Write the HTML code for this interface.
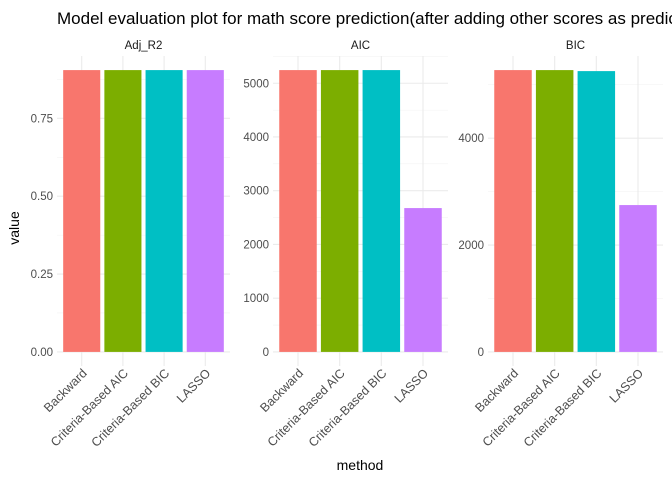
<!DOCTYPE html>
<html><head><meta charset="utf-8"><style>
body{margin:0;background:#fff}
svg{display:block;font-family:"Liberation Sans",Arial,sans-serif}
</style></head><body>
<svg id="chart" width="672" height="480">
<text x="57" y="24" font-size="17" fill="#000">Model evaluation plot for math score prediction(after adding other scores as predictors)</text>
<text transform="translate(19,228) rotate(-90)" text-anchor="middle" font-size="14" fill="#000">value</text>
<text x="360" y="470" text-anchor="middle" font-size="14" fill="#000">method</text>
<g id="panels"></g>
</svg>
<script>
const methods = ["Backward","Criteria-Based AIC","Criteria-Based BIC","LASSO"];
const colors = ["#F8766D","#7CAE00","#00BFC4","#C77CFF"];
const metrics = ["Adj_R2","AIC","BIC"];
const adjR2Values = [0.905,0.905,0.905,0.905];
const aicValues = [5245,5245,5245,2677];
const bicValues = [5274,5274,5255,2748];
const adjR2Ticks = [0,0.25,0.5,0.75];
const adjR2TickLabels = ["0.00","0.25","0.50","0.75"];
const aicTicks = [0,1000,2000,3000,4000,5000];
const aicTickLabels = ["0","1000","2000","3000","4000","5000"];
const bicTicks = [0,2000,4000];
const bicTickLabels = ["0","2000","4000"];

const NS="http://www.w3.org/2000/svg";
const g=document.getElementById('panels');
function mk(t,a,p){const e=document.createElementNS(NS,t);for(const k in a)e.setAttribute(k,a[k]);(p||g).appendChild(e);return e;}
const panels=[
 {x0:57,x1:230,vals:adjR2Values,ticks:adjR2Ticks,labels:adjR2TickLabels,name:"adj-r2"},
 {x0:273,x1:448,vals:aicValues,ticks:aicTicks,labels:aicTickLabels,name:"aic"},
 {x0:488,x1:663,vals:bicValues,ticks:bicTicks,labels:bicTickLabels,name:"bic"}];
const yTop=56,yBot=366;
panels.forEach((p,pi)=>{
  const pg=mk('g',{});
  
  
  const vmax=Math.max(...p.vals);
  const lo=-0.05*vmax,hi=vmax*1.05;
  const ys=v=>yBot-(v-lo)/(hi-lo)*(yBot-yTop);
  const unit=(p.x1-p.x0)/4.2;
  const xs=i=>p.x0+unit*(0.6+i);
  const step=p.ticks[1]-p.ticks[0];
  for(let v=-step/2;v<=hi;v+=step){ if(v<lo) continue;
    mk('line',{x1:p.x0,x2:p.x1,y1:ys(v),y2:ys(v),stroke:'#f3f3f3','stroke-width':0.6},pg);}
  p.ticks.forEach((t,i)=>{
    const l=mk('line',{x1:p.x0,x2:p.x1,y1:ys(t),y2:ys(t),stroke:'#ebebeb','stroke-width':1.1},pg);
    
    
    const tx=mk('text',{x:p.x0-4,y:ys(t)+4,'text-anchor':'end','font-size':11.5,fill:'#4d4d4d'},pg);
    tx.textContent=p.labels[i];
    
    
  });
  methods.forEach((m,i)=>{
    mk('line',{x1:xs(i),x2:xs(i),y1:yTop,y2:yBot,stroke:'#ebebeb','stroke-width':1.1},pg);
  });
  methods.forEach((m,i)=>{
    const r=mk('rect',{x:xs(i)-unit*0.45,width:unit*0.9,y:ys(p.vals[i]),height:ys(0)-ys(p.vals[i]),fill:colors[i]},pg);
    
    
    const tx=mk('text',{transform:`translate(${xs(i)+6},${yBot+8}) rotate(-45)`,'text-anchor':'end','font-size':12.5,fill:'#4d4d4d'},pg);
    tx.textContent=m;
    
    
  });
  const st=mk('text',{x:(p.x0+p.x1)/2,y:49,'text-anchor':'middle','font-size':11.5,fill:'#1a1a1a'},pg);
  st.textContent=metrics[pi];
  
  
});
</script>
</body></html>
